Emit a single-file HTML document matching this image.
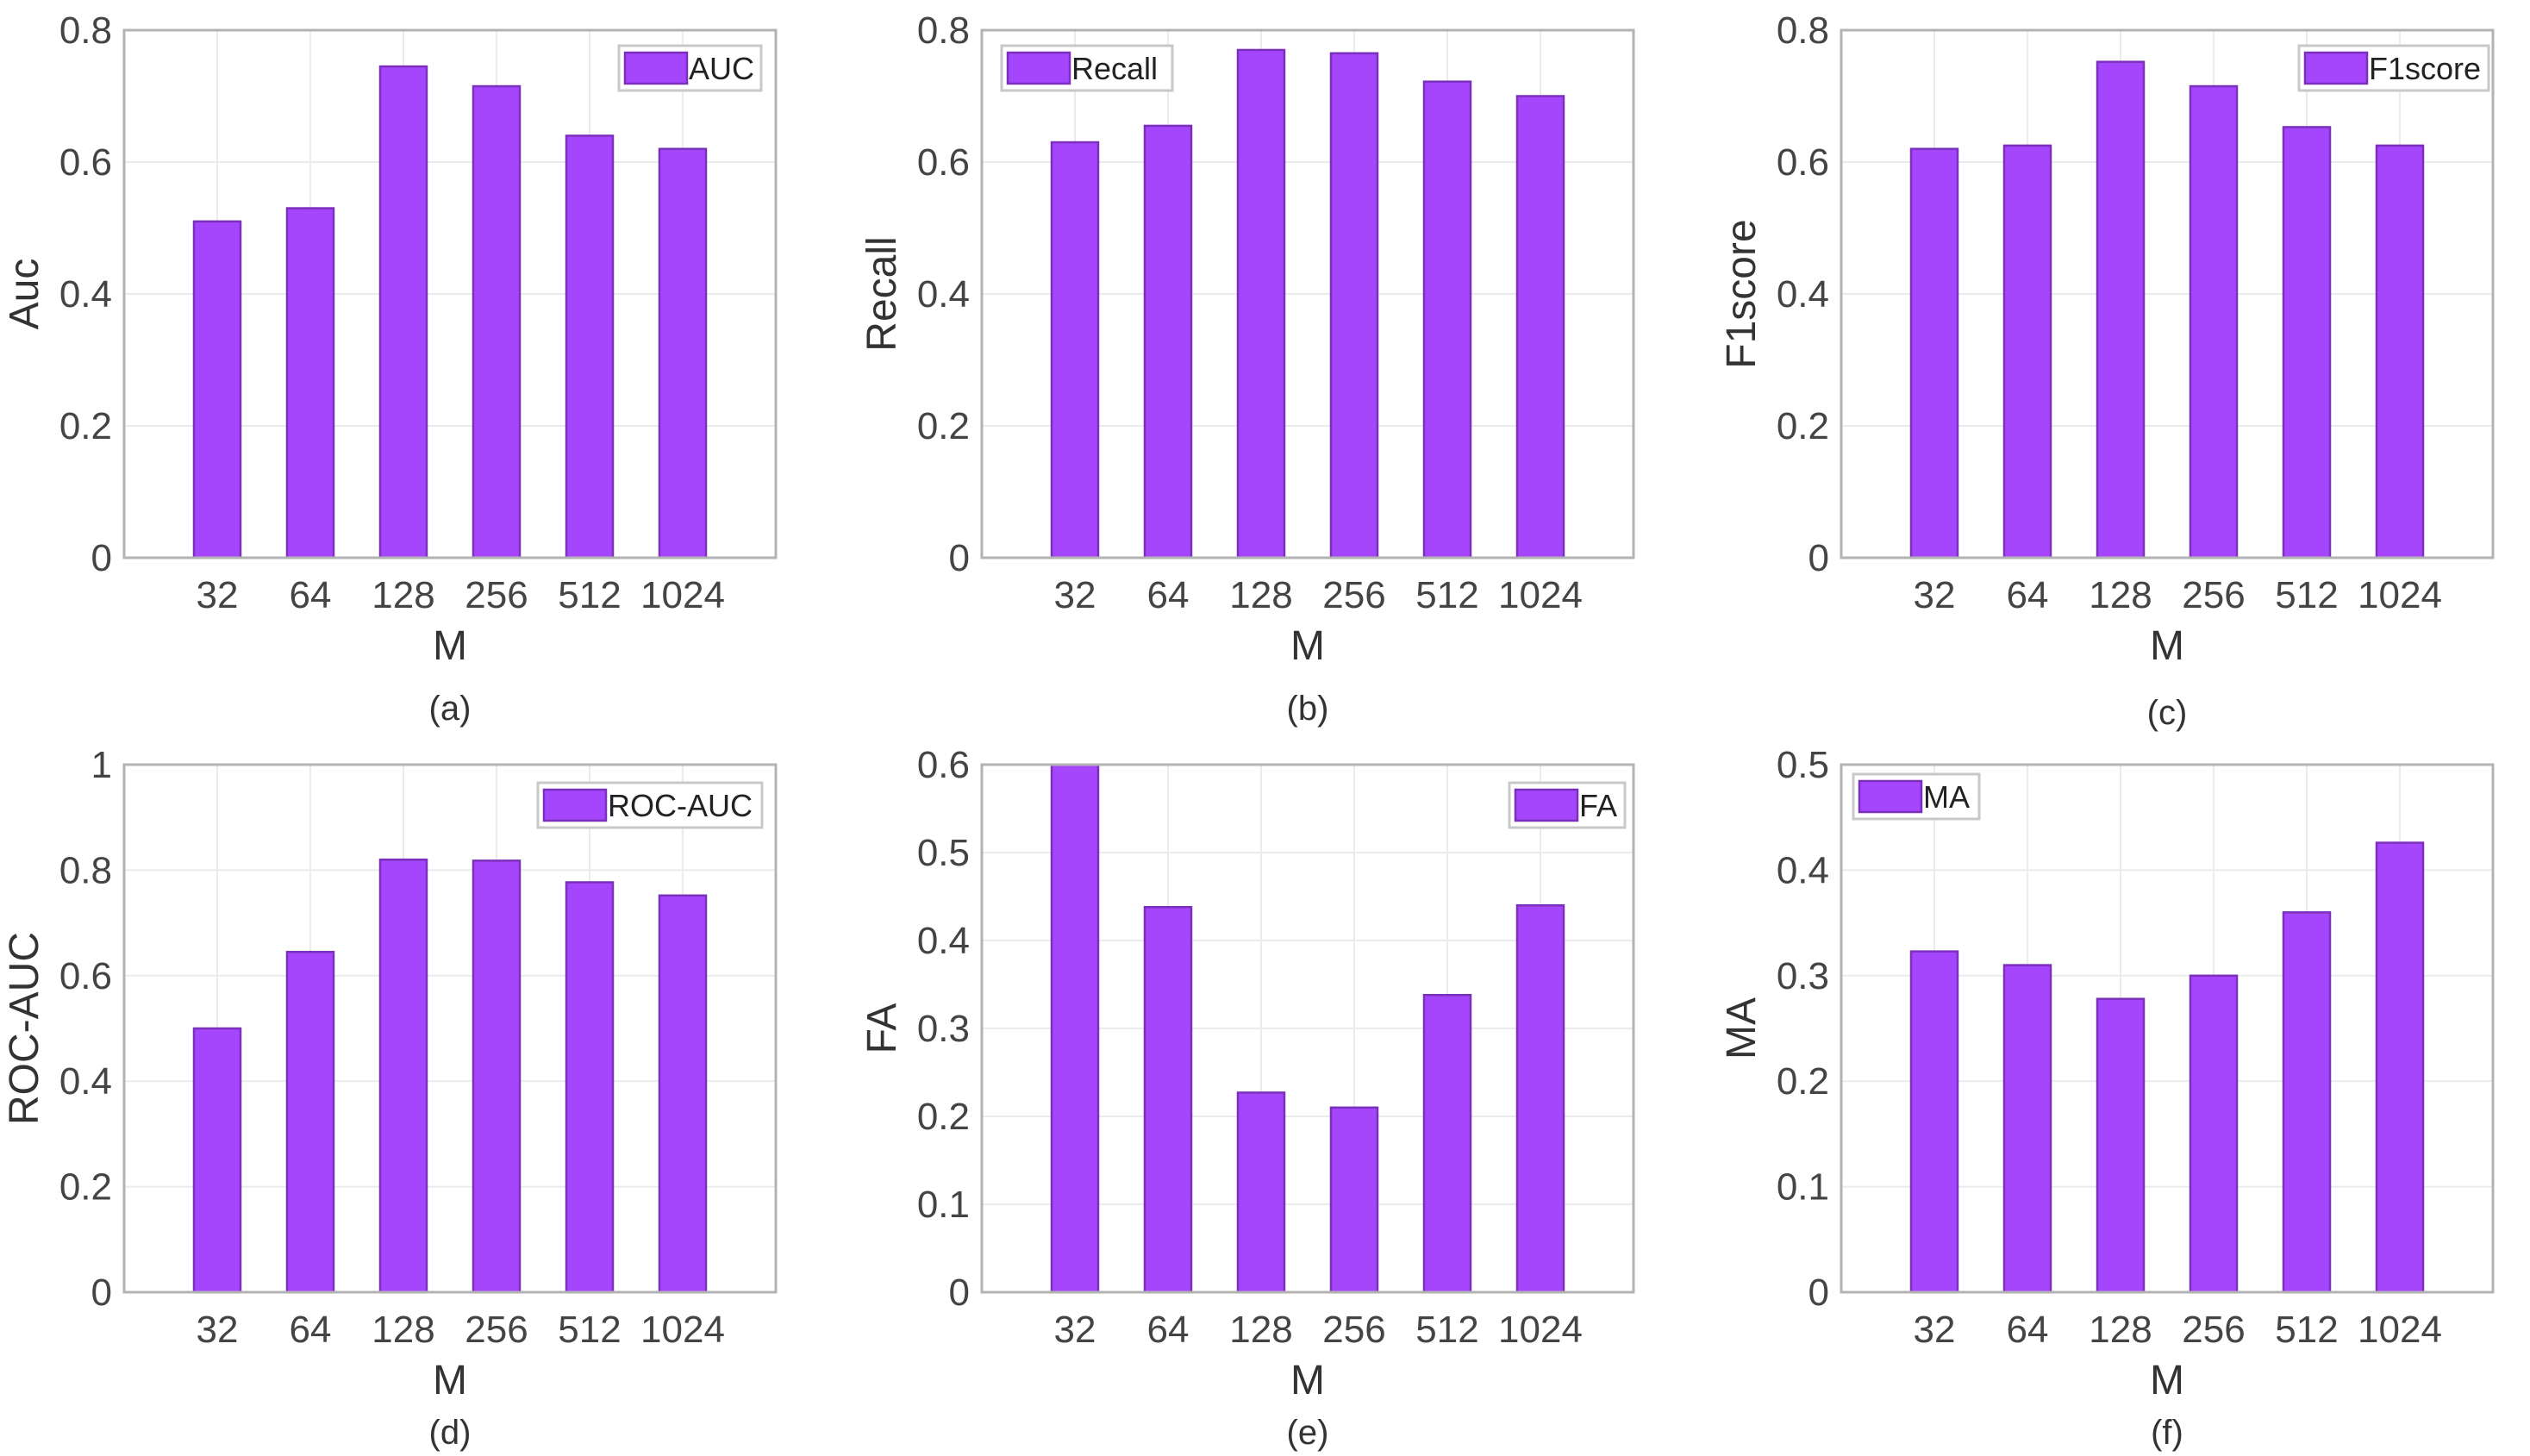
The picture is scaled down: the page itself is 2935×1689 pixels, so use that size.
<!DOCTYPE html>
<html><head><meta charset="utf-8">
<style>
body{margin:0;background:#fff;}
svg{display:block;font-family:"Liberation Sans",Arial,sans-serif;}
</style></head>
<body>
<svg id="fig" width="2935" height="1689" viewBox="0 0 2935 1689" xmlns="http://www.w3.org/2000/svg"></svg>
<script>
const categories = ["32","64","128","256","512","1024"];
const aucValues = [0.51,0.53,0.745,0.715,0.64,0.62];
const recallValues = [0.63,0.655,0.77,0.765,0.722,0.70];
const f1Values = [0.62,0.625,0.752,0.715,0.653,0.625];
const rocValues = [0.50,0.645,0.82,0.818,0.777,0.752];
const faValues = [0.60,0.438,0.227,0.21,0.338,0.44];
const maValues = [0.323,0.31,0.278,0.30,0.36,0.426];
const ticks08 = [0,0.2,0.4,0.6,0.8];
const ticks10 = [0,0.2,0.4,0.6,0.8,1];
const ticks06 = [0,0.1,0.2,0.3,0.4,0.5,0.6];
const ticks05 = [0,0.1,0.2,0.3,0.4,0.5];

const NS="http://www.w3.org/2000/svg";
const svg=document.getElementById('fig');
function mk(tag,attrs,parent){const e=document.createElementNS(NS,tag);for(const k in attrs)e.setAttribute(k,attrs[k]);(parent||svg).appendChild(e);return e;}

const panels=[
 {id:'a',vals:aucValues,ticks:ticks08,ymax:0.8,ylabel:'Auc',leg:'AUC',x0:144,y0:35,legX:718,legW:165,legY:53,capOff:188},
 {id:'b',vals:recallValues,ticks:ticks08,ymax:0.8,ylabel:'Recall',leg:'Recall',x0:1139,y0:35,legX:1162,legW:198,legY:53,capOff:188},
 {id:'c',vals:f1Values,ticks:ticks08,ymax:0.8,ylabel:'F1score',leg:'F1score',x0:2136,y0:35,legX:2667,legW:220,legY:53,capOff:193},
 {id:'d',vals:rocValues,ticks:ticks10,ymax:1,ylabel:'ROC-AUC',leg:'ROC-AUC',x0:144,y0:887,legX:624,legW:260,legY:908,capOff:176},
 {id:'e',vals:faValues,ticks:ticks06,ymax:0.6,ylabel:'FA',leg:'FA',x0:1139,y0:887,legX:1751,legW:134,legY:908,capOff:176},
 {id:'f',vals:maValues,ticks:ticks05,ymax:0.5,ylabel:'MA',leg:'MA',x0:2136,y0:887,legX:2150,legW:146,legY:898,capOff:176}
];
const W=756,H=612;
panels.forEach(p=>{
  const g=mk('g',{});
  
  
  const xs=i=>p.x0+(i+1)*W/7;
  const ys=v=>p.y0+H-v/p.ymax*H;
  mk('rect',{x:p.x0,y:p.y0,width:W,height:H,fill:'#fff'},g);
  p.ticks.forEach(t=>{const l=mk('line',{x1:p.x0,x2:p.x0+W,y1:ys(t),y2:ys(t),stroke:'#ebebeb','stroke-width':2},g);
    });
  categories.forEach((c,i)=>{const l=mk('line',{x1:xs(i),x2:xs(i),y1:p.y0,y2:p.y0+H,stroke:'#ebebeb','stroke-width':2},g);
    });
  const bw=W/7*0.5;
  p.vals.forEach((v,i)=>{const r=mk('rect',{x:xs(i)-bw/2,y:ys(v),width:bw,height:ys(0)-ys(v),fill:'#a545fc',stroke:'#7b30bd','stroke-width':2.5},g);
    });
  const b=mk('rect',{x:p.x0,y:p.y0,width:W,height:H,fill:'none',stroke:'#b3b3b3','stroke-width':3},g);
  
  p.ticks.forEach(t=>{const tx=mk('text',{x:p.x0-14,y:ys(t)+15,'text-anchor':'end','font-size':44,fill:'#444'},g);
    tx.textContent=String(t);});
  categories.forEach((c,i)=>{const tx=mk('text',{x:xs(i),y:p.y0+H+58,'text-anchor':'middle','font-size':44,fill:'#444'},g);
    tx.textContent=c;});
  const xl=mk('text',{x:p.x0+W/2,y:p.y0+H+118,'text-anchor':'middle','font-size':48,fill:'#333'},g);
  xl.textContent='M';
  const cap=mk('text',{x:p.x0+W/2,y:p.y0+H+p.capOff,'text-anchor':'middle','font-size':40,fill:'#333'},g);
  cap.textContent='('+p.id+')';
  const cy=p.y0+H/2, cx=p.x0-100;
  const yl=mk('text',{x:cx,y:cy,'text-anchor':'middle','font-size':48,fill:'#333',transform:'rotate(-90 '+cx+' '+cy+')'},g);
  yl.textContent=p.ylabel;
  const lg=mk('g',{},g);
  
  mk('rect',{x:p.legX,y:p.legY,width:p.legW,height:52,fill:'#fff',stroke:'#c8c8c8','stroke-width':3},lg);
  mk('rect',{x:p.legX+7,y:p.legY+8,width:72,height:36,fill:'#a545fc',stroke:'#7b30bd','stroke-width':2.5},lg);
  const lt=mk('text',{x:p.legX+81,y:p.legY+39,'font-size':36,fill:'#222'},lg);
  lt.textContent=p.leg;
});
</script>
</body></html>
